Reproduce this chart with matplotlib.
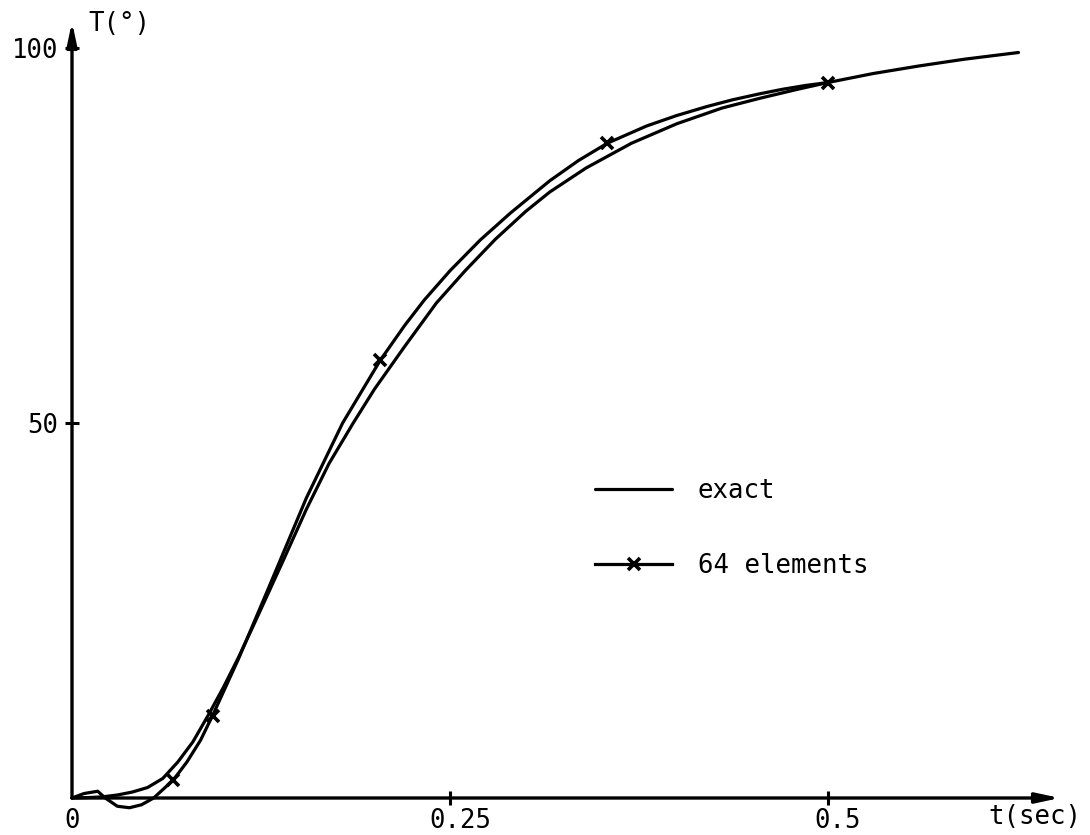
import matplotlib
matplotlib.use("Agg")
import matplotlib.pyplot as plt
import matplotlib.transforms as mtransforms

# ---- data ----
t_exact = [0, 0.01, 0.02, 0.03, 0.04, 0.05, 0.06, 0.07, 0.08, 0.09, 0.10, 0.11,
           0.12, 0.13, 0.14, 0.155, 0.17, 0.186, 0.20, 0.22, 0.241, 0.26, 0.28,
           0.30, 0.316, 0.34, 0.37, 0.40, 0.43, 0.455, 0.48, 0.50, 0.53, 0.56,
           0.59, 0.626]
T_exact = [0, 0.05, 0.15, 0.4, 0.8, 1.4, 2.6, 4.8, 7.5, 11.0, 14.7, 18.7,
           23.0, 27.4, 31.8, 38.5, 44.6, 50.0, 54.5, 60.2, 66.0, 70.3, 74.5,
           78.2, 80.8, 84.0, 87.3, 89.9, 92.0, 93.3, 94.5, 95.4, 96.6, 97.6,
           98.5, 99.4]

t_fem = [0, 0.008, 0.017, 0.022, 0.03, 0.038, 0.046, 0.054, 0.067, 0.076, 0.085,
         0.093, 0.11, 0.13, 0.155, 0.179, 0.204, 0.22, 0.233, 0.25, 0.27, 0.29,
         0.316, 0.335, 0.354, 0.38, 0.40, 0.42, 0.437, 0.455, 0.47, 0.485, 0.5]
T_fem = [0, 0.6, 0.9, 0.0, -1.1, -1.3, -0.9, 0.0, 2.4, 4.8, 7.7,
         11.0, 18.5, 28.0, 40.0, 50.0, 58.4, 63.0, 66.4, 70.3, 74.4, 78.0,
         82.3, 85.0, 87.3, 89.6, 91.0, 92.2, 93.1, 93.9, 94.5, 95.0, 95.4]

t_markers = [0.067, 0.093, 0.204, 0.354, 0.5]
T_markers = [2.4, 11.0, 58.4, 87.3, 95.4]

x_ticks = [0, 0.25, 0.5]
x_ticklabels = ["0", "0.25", "0.5"]
y_ticks = [50, 100]
y_ticklabels = ["50", "100"]

FONT = "DejaVu Sans Mono"
FS = 18.5
LW = 2.3

W, H = 1090, 835
fig = plt.figure(figsize=(W / 100, H / 100), dpi=100)
x0, y0, x1, y1 = 72, 798, 1060, 22
ax = fig.add_axes([x0 / W, 1 - y0 / H, (x1 - x0) / W, (y0 - y1) / H])
xmax = (x1 - x0) / 1512.0
ymax = (y0 - y1) / 7.5
ax.set_xlim(0, xmax)
ax.set_ylim(0, ymax)
for s in ax.spines.values():
    s.set_visible(False)

# axes with arrowheads
arrow = dict(arrowstyle="-|>,head_length=1.4,head_width=0.3", lw=2.4,
             color="black", shrinkA=0, shrinkB=0)
ax.annotate("", xy=(xmax, 0), xytext=(0, 0), arrowprops=arrow,
            annotation_clip=False)
ax.annotate("", xy=(0, ymax), xytext=(0, 0), arrowprops=arrow,
            annotation_clip=False)

ax.plot(t_exact, T_exact, color="black", lw=LW, label="exact", clip_on=False,
        solid_capstyle="round", solid_joinstyle="round")
ax.plot(t_fem, T_fem, color="black", lw=LW, clip_on=False,
        solid_capstyle="round", solid_joinstyle="round")
ax.plot(t_markers, T_markers, ls="none", marker="x", ms=8, mew=2.6,
        color="black", clip_on=False)
# legend proxy for 64 elements (line with marker)
ax.plot([], [], color="black", lw=LW, marker="x", ms=8, mew=2.6,
        label="64 elements")

ax.set_xticks(x_ticks)
ax.set_xticklabels(x_ticklabels, fontfamily=FONT, fontsize=FS)
ax.set_yticks(y_ticks)
ax.set_yticklabels(y_ticklabels, fontfamily=FONT, fontsize=FS)
ax.tick_params(axis="x", direction="inout", length=10, width=2.2, pad=2)
ax.tick_params(axis="y", direction="inout", length=10, width=2.2, pad=5)
ax.xaxis.get_major_ticks()[0].tick1line.set_visible(False)

for i, lab in enumerate(ax.get_xticklabels()):
    if i > 0:
        off = mtransforms.ScaledTranslation(10 / 100, 0, fig.dpi_scale_trans)
        lab.set_transform(lab.get_transform() + off)

fig.text(88 / W, 1 - 24 / H, "T(°)", fontfamily=FONT, fontsize=FS,
         ha="left", va="center")
fig.text(988 / W, 1 - 817 / H, "t(sec)", fontfamily=FONT, fontsize=FS,
         ha="left", va="center")

leg = ax.legend(loc="upper left", bbox_to_anchor=(595 / W, 1 - 478 / H),
                bbox_transform=fig.transFigure, frameon=False,
                prop={"family": FONT, "size": FS}, handlelength=3.0,
                handletextpad=1.0, labelspacing=1.9, borderpad=0,
                borderaxespad=0, numpoints=1)

fig.savefig("out.png", dpi=100)
